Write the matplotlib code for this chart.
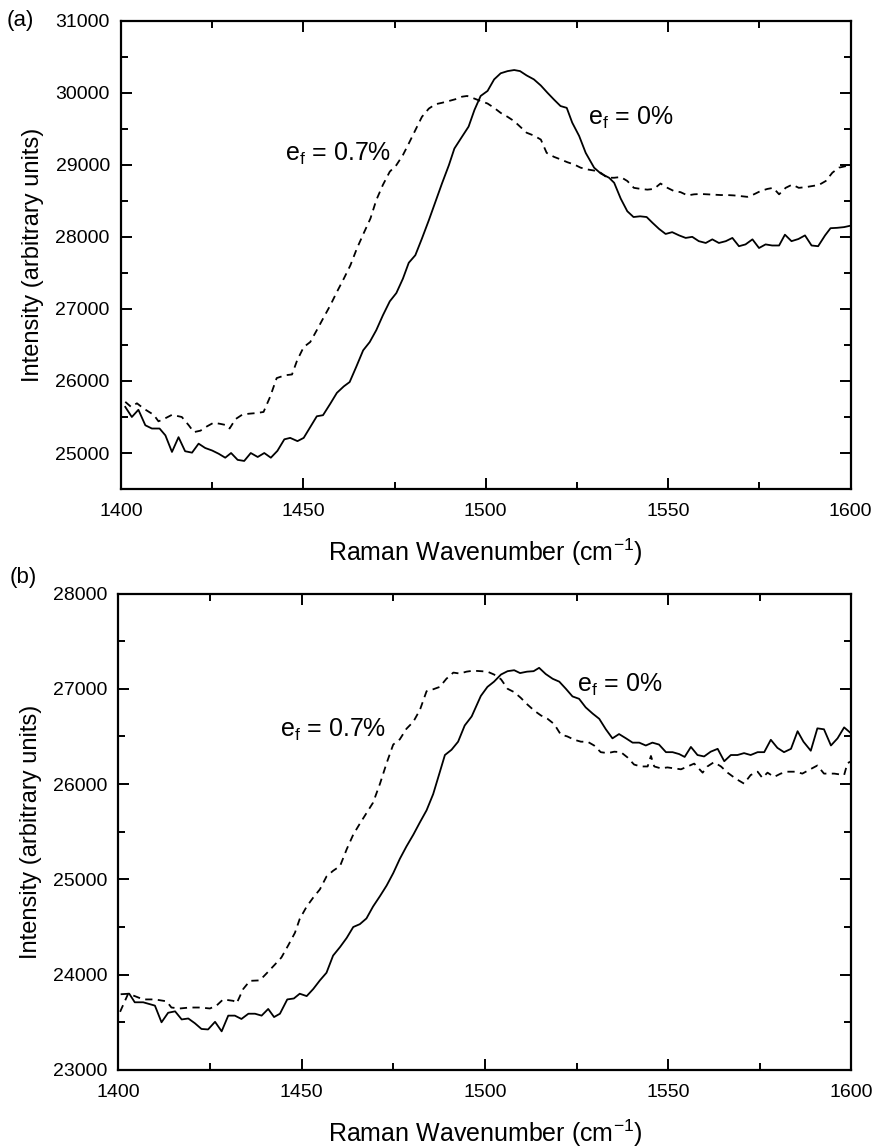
import matplotlib
matplotlib.use("Agg")
import matplotlib.pyplot as plt
from matplotlib.ticker import MultipleLocator

plt.rcParams["font.family"] = ["Liberation Sans", "DejaVu Sans"]
plt.rcParams["mathtext.fontset"] = "custom"
plt.rcParams["mathtext.rm"] = "Liberation Sans"
plt.rcParams["mathtext.it"] = "Liberation Sans:italic"

# (a) solid: e_f = 0%
a_solid_x = [1401.2, 1403, 1404.8, 1406.7, 1408.5, 1410.6, 1412.2, 1414, 1415.8, 1417.6, 1419.5, 1421.3,
             1423.1, 1425, 1426.8, 1428.6, 1430.2, 1432, 1433.8, 1435.6, 1437.5, 1439.3, 1441.1, 1442.9,
             1444.8, 1446.4, 1448.4, 1450.1, 1451.9, 1453.7, 1455.4, 1457.4, 1459.2, 1461.1, 1462.7, 1464.5,
             1466.4, 1468.2, 1470, 1471.8, 1473.7, 1475.5, 1477.3, 1478.9, 1480.7, 1482.5, 1484.4, 1486.2,
             1488, 1489.9, 1491.4, 1493.5, 1495.3, 1496.9, 1498.6, 1500.5, 1502.3, 1504.1, 1506, 1507.8,
             1509.4, 1511.2, 1513.2, 1515.1, 1516.9, 1518.7, 1520.5, 1522.2, 1523.7, 1525.6, 1527.4, 1529.7,
             1531.5, 1533.8, 1535.2, 1537, 1538.8, 1540.5, 1542.3, 1544.1, 1545.7, 1547.5, 1549.3, 1551.1,
             1553, 1554.8, 1556.6, 1558.4, 1560.3, 1562.1, 1563.9, 1565.8, 1567.6, 1569.4, 1571.2, 1573.1,
             1574.9, 1576.7, 1578.5, 1580.4, 1582, 1583.8, 1585.7, 1587.5, 1589.3, 1591.1, 1593, 1594.5,
             1596.3, 1598.2, 1600]
a_solid_y = [25640, 25500, 25600, 25385, 25340, 25340, 25245, 25015, 25220, 25025, 25005, 25130,
             25070, 25035, 24990, 24935, 25000, 24905, 24890, 25000, 24945, 25000, 24935, 25030,
             25190, 25210, 25165, 25210, 25360, 25510, 25525, 25685, 25835, 25925, 25985, 26195,
             26425, 26540, 26705, 26910, 27105, 27220, 27420, 27640, 27745, 27975, 28230, 28485,
             28740, 28995, 29225, 29390, 29530, 29760, 29955, 30025, 30185, 30270, 30300, 30315,
             30300, 30240, 30185, 30100, 30000, 29905, 29815, 29790, 29585, 29400, 29165, 28960,
             28880, 28820, 28750, 28530, 28355, 28275, 28285, 28275, 28195, 28110, 28040, 28065,
             28020, 27985, 28000, 27940, 27915, 27965, 27915, 27940, 27985, 27870, 27895, 27965,
             27845, 27895, 27880, 27880, 28030, 27940, 27970, 28020, 27880, 27870, 28020, 28120,
             28125, 28135, 28155]

# (a) dashed: e_f = 0.7%
a_dash_x = [1401.2, 1402.8, 1404.4, 1406.3, 1409, 1410.3, 1411.7, 1414, 1416.7, 1418.6, 1420, 1421.8,
            1423.6, 1425.4, 1427.2, 1429.1, 1429.8, 1431.4, 1433.2, 1435, 1437.3, 1439.1, 1440.9, 1442.7,
            1445.1, 1446.9, 1448.3, 1450.1, 1451.9, 1453.7, 1455.4, 1457.4, 1459.2, 1461.1, 1462.9, 1464.7,
            1466.5, 1468.4, 1470, 1471.8, 1473.7, 1475.5, 1477.3, 1478.9, 1480.7, 1482.5, 1484.4, 1486.2,
            1488, 1489.9, 1491.7, 1493.5, 1494.9, 1496.8, 1498.6, 1500.5, 1502.3, 1504.1, 1506, 1507.8,
            1509.4, 1511.2, 1513.2, 1515.1, 1516.7, 1518.7, 1520.5, 1522.4, 1524.2, 1526, 1527.9, 1529.7,
            1531.5, 1533.3, 1535.2, 1537, 1538.8, 1540.6, 1542.5, 1544.3, 1546.1, 1547.9, 1549.8, 1551.6,
            1553.4, 1555.3, 1557.1, 1558.9, 1560.7, 1562.6, 1564.4, 1566.2, 1568, 1569.9, 1571.7, 1573.5,
            1575.3, 1577.2, 1578.8, 1580.4, 1582.2, 1584, 1585.8, 1587.7, 1589.5, 1591.3, 1593.2, 1595,
            1596.8, 1598.6, 1600]
a_dash_y = [25710, 25640, 25690, 25615, 25530, 25440, 25470, 25530, 25500, 25385, 25290, 25310,
            25370, 25420, 25405, 25385, 25340, 25470, 25530, 25545, 25555, 25570, 25780, 26040,
            26080, 26090, 26285, 26470, 26540, 26705, 26865, 27050, 27235, 27420, 27605, 27840,
            28045, 28255, 28510, 28720, 28905, 28995, 29135, 29295, 29480, 29665, 29780, 29840,
            29860, 29885, 29910, 29945, 29955, 29920, 29885, 29850, 29790, 29720, 29665, 29605,
            29530, 29445, 29405, 29350, 29165, 29110, 29075, 29035, 29005, 28960, 28935, 28920,
            28890, 28820, 28820, 28830, 28775, 28680, 28665, 28655, 28665, 28740, 28680, 28635,
            28620, 28575, 28590, 28595, 28590, 28585, 28580, 28580, 28575, 28565, 28555, 28590,
            28635, 28665, 28680, 28590, 28680, 28725, 28680, 28690, 28705, 28720, 28775, 28890,
            28960, 28980, 29005]

# (b) solid: e_f = 0%
b_solid_x = [1400.9, 1403, 1404.5, 1406.8, 1410, 1411.8, 1413.6, 1415.5, 1417.3, 1419.1, 1420.9, 1422.7,
             1424.5, 1426.4, 1428.2, 1430, 1431.8, 1433.6, 1435.5, 1437.3, 1439.1, 1440.9, 1442.5, 1444.1,
             1446.1, 1447.9, 1449.5, 1451.4, 1453.2, 1455, 1456.8, 1458.6, 1460.5, 1462.3, 1464.1, 1465.9,
             1467.7, 1469.5, 1471.4, 1473.2, 1475, 1476.8, 1478.6, 1480.5, 1482.3, 1484.1, 1485.9, 1487.7,
             1489.1, 1490.9, 1492.7, 1494.5, 1496.4, 1498.9, 1500.7, 1502.5, 1504.4, 1506.2, 1508, 1509.6,
             1511.5, 1513.3, 1514.8, 1516.6, 1518.5, 1520.3, 1522.1, 1523.9, 1525.7, 1527.5, 1529.4, 1531.2,
             1533, 1534.8, 1536.6, 1538.5, 1540.3, 1542.1, 1543.9, 1545.7, 1547.5, 1549.4, 1551.2, 1553,
             1554.5, 1556.2, 1558, 1559.8, 1561.6, 1563.5, 1565.3, 1567.1, 1568.9, 1570.7, 1572.5, 1574.4,
             1576.2, 1578, 1579.8, 1581.6, 1583.5, 1585.3, 1586.9, 1588.9, 1590.7, 1592.5, 1594.4, 1596.2,
             1598, 1599.8]
b_solid_y = [23795, 23800, 23710, 23710, 23675, 23500, 23600, 23615, 23530, 23540, 23490, 23430,
             23425, 23505, 23405, 23570, 23570, 23535, 23590, 23590, 23570, 23640, 23555, 23590,
             23740, 23750, 23800, 23775, 23850, 23940, 24020, 24200, 24290, 24385, 24500, 24530,
             24590, 24715, 24825, 24935, 25065, 25215, 25345, 25470, 25600, 25725, 25895, 26125,
             26305, 26360, 26445, 26615, 26710, 26925, 27020, 27075, 27150, 27185, 27195, 27165,
             27180, 27185, 27220, 27155, 27105, 27075, 27000, 26920, 26895, 26805, 26740, 26685,
             26575, 26480, 26525, 26480, 26435, 26435, 26405, 26435, 26415, 26335, 26335, 26315,
             26285, 26390, 26305, 26290, 26340, 26370, 26240, 26305, 26305, 26325, 26305, 26335,
             26335, 26465, 26380, 26335, 26370, 26555, 26445, 26350, 26585, 26575, 26405, 26480,
             26595, 26535]

# (b) dashed: e_f = 0.7%
b_dash_x = [1400.5, 1402.7, 1404.5, 1406.8, 1410, 1413.2, 1414.5, 1416.8, 1419.5, 1422.3, 1425, 1426.8,
            1428.6, 1431.4, 1432.3, 1434.1, 1435.9, 1438.6, 1440.5, 1442.7, 1444.5, 1446.4, 1448.2, 1449.5,
            1451.4, 1453.2, 1455, 1456.8, 1458.6, 1460.5, 1462.3, 1464.1, 1465.9, 1467.7, 1469.5, 1471.4,
            1473.2, 1475, 1476.8, 1478.6, 1480.5, 1482.3, 1484.1, 1485.9, 1487.7, 1489.5, 1491.4, 1493.2,
            1495, 1496.8, 1498.9, 1500.7, 1502.5, 1504.4, 1506.2, 1508, 1509.8, 1511.6, 1513.5, 1515.3,
            1517.1, 1518.9, 1520.7, 1522.5, 1524.4, 1526.2, 1528, 1529.8, 1531.6, 1533.5, 1535.3, 1537.1,
            1538.9, 1540.7, 1542.5, 1544.4, 1545.3, 1546.2, 1548, 1549.8, 1551.6, 1553.5, 1555.3, 1557.1,
            1559.4, 1560.7, 1562.5, 1564.4, 1566.2, 1568.5, 1570.7, 1572.5, 1574.4, 1575.7, 1577.1, 1578.9,
            1580.7, 1582.5, 1584.8, 1586.6, 1588.5, 1590.7, 1592.5, 1595.3, 1598, 1598.9, 1600]
b_dash_y = [23610, 23800, 23775, 23740, 23740, 23720, 23655, 23645, 23655, 23655, 23645, 23675,
            23740, 23725, 23700, 23850, 23935, 23940, 24015, 24105, 24180, 24310, 24440, 24585,
            24715, 24810, 24895, 25030, 25090, 25140, 25315, 25470, 25585, 25695, 25805, 26005,
            26220, 26415, 26470, 26580, 26655, 26780, 26975, 26995, 27020, 27105, 27170, 27160,
            27180, 27190, 27185, 27180, 27150, 27100, 27000, 26965, 26905, 26835, 26770, 26720,
            26685, 26630, 26520, 26500, 26465, 26445, 26445, 26405, 26335, 26325, 26340, 26335,
            26280, 26205, 26185, 26185, 26295, 26185, 26165, 26175, 26165, 26155, 26185, 26215,
            26120, 26185, 26230, 26185, 26120, 26055, 26005, 26095, 26130, 26065, 26120, 26075,
            26110, 26130, 26130, 26110, 26150, 26195, 26110, 26110, 26095, 26220, 26240]

LBL_HOT = r"e$_{\rm f}$ = 0.7%"
LBL_COLD = r"e$_{\rm f}$ = 0%"

fig = plt.figure(figsize=(8.76, 11.48), dpi=100)
ax1 = fig.add_axes([0.138, 0.574, 0.833, 0.408])
ax2 = fig.add_axes([0.135, 0.068, 0.837, 0.415])


def style(ax, ylim, ymaj):
    ax.set_xlim(1400, 1600)
    ax.set_ylim(*ylim)
    ax.xaxis.set_major_locator(MultipleLocator(50))
    ax.xaxis.set_minor_locator(MultipleLocator(25))
    ax.yaxis.set_major_locator(MultipleLocator(ymaj))
    ax.yaxis.set_minor_locator(MultipleLocator(ymaj / 2))
    ax.tick_params(which="both", direction="in", top=True, right=True, width=1.4, labelsize=14)
    ax.tick_params(which="major", length=8)
    ax.tick_params(which="minor", length=5)
    ax.tick_params(axis="x", pad=10)
    ax.tick_params(axis="y", pad=8)
    for s in ax.spines.values():
        s.set_linewidth(1.6)
    ax.set_xlabel("Raman Wavenumber (cm$^{-1}$)", fontsize=18, labelpad=12)
    ax.set_ylabel("Intensity (arbitrary units)", fontsize=17, labelpad=8)


ax1.plot(a_solid_x, a_solid_y, color="black", lw=1.3)
ax1.plot(a_dash_x, a_dash_y, color="black", lw=1.3, ls=(0, (4, 3)))
style(ax1, (24500, 31000), 1000)
ax1.text(1445, 29050, LBL_HOT, fontsize=18, va="baseline")
ax1.text(1528, 29550, LBL_COLD, fontsize=18, va="baseline")

ax2.plot(b_solid_x, b_solid_y, color="black", lw=1.3)
ax2.plot(b_dash_x, b_dash_y, color="black", lw=1.3, ls=(0, (4, 3)))
style(ax2, (23000, 28000), 1000)
ax2.text(1444, 26500, LBL_HOT, fontsize=18, va="baseline")
ax2.text(1525, 26970, LBL_COLD, fontsize=18, va="baseline")

fig.text(0.008, 0.982, "(a)", fontsize=16, va="center", ha="left")
fig.text(0.011, 0.497, "(b)", fontsize=16, va="center", ha="left")

fig.savefig("out.png", dpi=100)
